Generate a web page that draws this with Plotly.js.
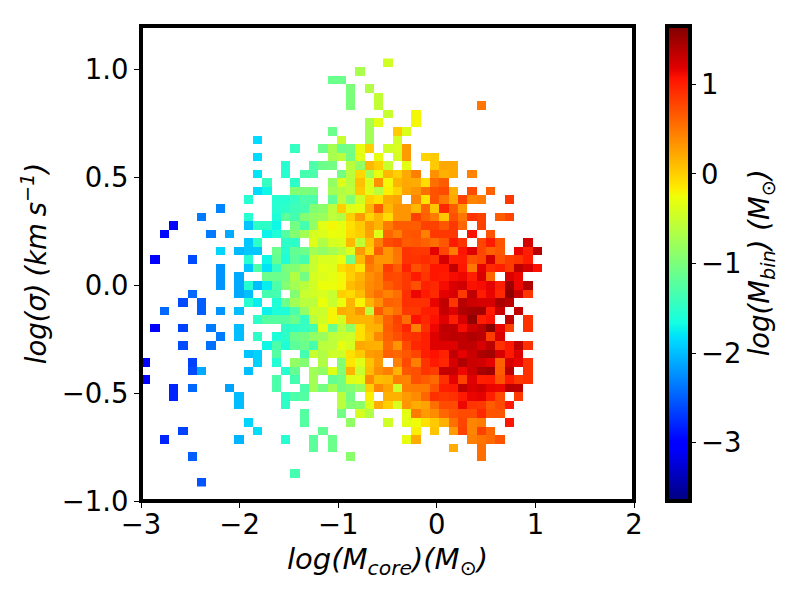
<!DOCTYPE html>
<html>
<head>
<meta charset="utf-8">
<script src="https://cdn.plot.ly/plotly-3.0.1.min.js"></script>
<style>html,body{margin:0;padding:0;background:#fff}</style>
</head>
<body>
<div id="chart" style="width:800px;height:600px"></div>
<script>
const _ = null;
// each row, top to bottom: first column index, then log(M_bin) values from that column on
const rows = [
[26,-.45],
[23,-.7],
[20,-1.1,-1.1],
[22,-1,_,-.65],
[22,-1,_,_,-.55],
[22,-1,_,_,-.55,_,_,_,_,_,_,_,_,_,_,.5],
[26,-.5,_,_,-.22],
[24,-.7,-.33,_,_,_,-.22],
[20,-1.1,_,_,_,-.75,_,_,.03,-.38],
[12,-1.85,_,_,_,_,_,_,_,_,-.5,_,_,-.75,_,_,-.45],
[16,-1.45,_,_,-1.1,-.73,-1.1,-1.05,-.3,0,_,-.45,-.4,.3],
[12,-1.85,_,_,_,_,_,_,_,-.7,-.6,-1.05,-.33,_,-.3,_,-.42,.3,_,-.03,.03],
[15,-1.55,_,_,-1.3,-1.1,-1.05,_,-.6,-.85,.13,0,-.5,_,-.33,_,_,.03,.22,.22],
[12,-1.8,_,_,-1.55,_,-1.35,-1.3,_,_,-1.05,-.6,-.05,-.75,-.3,.13,0,.22,.45,_,.35,.17,.22,_,.43],
[13,-1.45,_,_,-1.5,_,_,_,-.85,-.38,-.6,.08,-.37,.35,-.22,.15,.22,.2,-.07,.55,.65],
[12,-1.85,-1.7,_,_,-.95,-1,-1.03,_,-.75,-.65,-.58,.03,-.35,-.6,-.18,-.03,.25,.33,.55,.7,.75,.17,_,.75,_,.62],
[11,-1.55,_,_,-1.55,-1.55,-1.45,-1.3,-1.3,_,-1.15,-.58,-.95,-.45,0,-.1,.2,.25,_,.42,-.12,.7,.5,.22,.8,.42,.47,_,_,.85],
[8,-2.3,_,_,_,_,_,-1.55,-1.5,-1.4,-1.35,-.95,-.9,-.58,0,-.37,-.3,.15,.65,.13,.33,.33,.13,.6,.05,.95,.65,.3],
[6,-2.35,_,_,_,_,-1.55,_,_,-1.6,-1.2,-1.35,-.95,-.85,-.8,-.58,-.65,0,.3,-.03,.15,-.07,.33,.33,.8,.62,.47,.05,.72,.5,.88,.8,_,.65,.78],
[3,-3,_,_,_,_,_,_,_,-1.97,-1.5,-1.5,-1.7,_,-1.05,-1.35,-.85,-.33,-.22,-.3,-.1,.03,.28,.15,.47,.65,.65,.65,.8,.8,.68,.85,.6,_,.8],
[2,-2.95,_,_,_,_,-2.35,_,-2.1,_,_,_,-1.72,-1.6,-1.25,-.95,-.75,-.42,-.38,-.28,-.3,-.07,0,.25,-.35,.6,.45,.68,.7,.45,.85,.85,.85,_,1.08,_,.7],
[11,-1.95,-1.5,_,_,-1.5,-1.5,_,-.35,-.65,-.42,-.38,.12,-.55,.07,.45,.75,.8,.65,.68,.62,.55,.68,1.02,.88,_,.78,1.02,.7,_,_,1.25],
[8,-1.88,_,-2.02,-1.95,-1.95,_,-1.1,-1.55,-1.15,-1.1,-.75,-.85,-.73,-.6,-.37,.3,-.03,.65,.33,.52,.88,.85,.85,1.17,.78,.47,1.05,1.19,.78,.62,.68,_,1.15,1,1.38],
[1,-3,_,_,_,-2.6,_,_,_,_,_,-1.55,_,-1.7,-1.15,-1.6,-1.2,-1.35,-.5,-.4,-.4,-.27,-1.05,.12,.55,.33,.33,.5,.88,.88,.93,.88,1.23,1,1.02,.7,.77,1.23,.72,.83,.88,1.02],
[8,-2.22,_,_,-1.95,-1.3,-1.8,-1.45,-1,-.95,-.75,-.5,-.33,-.37,-.07,.03,-.13,.47,.37,.83,.65,.98,.72,.83,1.05,1.05,1.33,1.05,.5,1.17,.93,1,.83,1.36,1.23,1.08],
[8,-2.22,_,-2.1,_,_,-1.1,-1.1,-1.05,-.65,-1.05,-.42,-.38,-.32,-.22,0,.15,.35,.45,.77,.75,.85,1.02,.87,1.05,1.02,1.1,1.13,1,1.21,.6,_,1.21,1.13],
[8,-2.22,_,-2.1,-1.55,-2,-1.75,-1.3,-.95,-.75,-.6,-.45,-.28,-.27,-.22,.1,.2,.38,.45,.65,.75,.85,.72,.98,.95,1.1,1.21,1.26,1.08,1.1,1.17,1,1.51,1.13,1.41],
[5,-2.45,_,_,_,_,-2.1,-2,_,-1.35,-1.35,_,-.95,-.5,-.45,-.4,-.5,0,-.07,.1,.4,.55,.43,.55,.9,1.13,1.02,.93,1.17,1.23,.85,1.34,1.02,1.15,.95,1.58,1.29,.87],
[4,-2.6,_,-2.5,_,_,_,_,-1.55,-1.75,_,-1.6,-1.1,-.75,-.6,-.6,-.28,-.5,-.27,.15,-.2,.15,.37,.62,.6,.9,.9,.9,1.15,1.33,.87,1.38,1.28,1.23,1.23,1.44,1.36],
[2,-2.45,_,_,_,-2.5,_,-2.22,_,-2,_,_,-1.72,-1.62,-1.6,-1.3,-.85,-.45,-.5,-.2,.2,.15,.32,-.58,.65,.42,.55,.85,.85,1,1.02,1.31,1.19,1.41,1.46,1.48,1.02,1.29,_,1.34],
[12,-1.5,-1.25,-1.25,-1.25,-1.1,-1.45,-.6,-.45,-.2,-.42,.15,.15,.15,.32,.62,.8,.55,1.07,.95,1.07,1.19,1,1.23,1.56,1,1.07,_,1.34,_,.9],
[1,-3,_,_,-2.65,_,_,-2.35,_,_,-2,_,_,_,_,-1.5,-1.5,-1.45,-1.35,-.33,-1.1,-.58,-.85,-.1,.15,.18,.65,.78,.97,.45,.9,1.13,1.34,1.34,1.1,1.26,1.36,1.6,1.15,.8,_,.9],
[8,-2.35,_,-2,_,-1.5,_,-1.62,-1.5,-1.1,-1.05,-.85,-.8,-.58,-.5,-.47,-.1,.1,.4,.62,.72,.87,.9,1,1.19,1.32,1.36,1.34,1.41,1.36,.83,1.21],
[4,-2.6,_,_,-2.4,_,_,_,_,_,-1.7,-1.3,-1.6,-1.2,-1.1,-1.35,-.6,-.58,-.3,-.42,.22,.18,.17,.57,.33,.75,.95,1,1.19,1.19,1.19,1.34,1.34,1.21,1.36,.9,1.03,1.34,.9],
[11,-1.97,-1.9,_,-1.25,_,_,-1.35,-.5,-.65,-.47,-.47,-.1,.03,.28,.32,.62,.6,.68,.78,1,1.07,.98,1.34,1.17,1.29,1.43,1.48,1.23,1.03,1.19],
[0,-3.07,_,_,_,_,-2.65,_,_,_,_,_,_,-1.9,_,-1.58,_,-.85,-.95,_,-.65,_,-.95,-.13,-.35,.07,.3,_,.45,.75,.45,.88,1.03,.95,1.23,1.41,1.28,1.26,1.17,.62,1.21,1.15,.9],
[5,-2.6,-2.1,_,_,_,_,-2,_,_,_,-1.55,-1.15,_,-.75,-.85,-.35,-.95,.15,-.5,.1,.37,.45,.15,.68,.72,.88,.83,1.31,1.31,1.13,1.29,1.46,1.51,.65,1.36,_,.9],
[0,-3.07,_,_,_,_,_,_,_,_,_,_,_,_,_,-1.3,_,-1.35,_,-.75,_,-1.15,-1.05,-.37,-.33,.38,.1,.13,.45,.42,.72,.65,.57,.9,1.17,.8,1.19,1,1.02,.7,1.02,.85,.9],
[3,-2.8,_,-2.45,_,_,_,-2.15,_,_,_,_,-1.3,_,_,-1.3,-.75,-1.05,-.75,-1.05,-.95,-.8,0,.4,.25,-.45,.45,.47,.47,.7,1,1.03,1.34,1.21,1.26,1.15,1.13,1.38,1.34],
[3,-2.8,_,_,_,_,_,_,-2,_,_,_,_,-1.5,-1.3,-1.25,_,_,_,-.6,-1.05,_,-.18,_,.17,.17,.3,.38,.6,.9,.85,.9,1.03,1.15,1.17,1,.75,_,.85],
[10,-2,_,_,_,_,-1.5,_,_,_,_,_,-.6,-.95,-.9,-.35,.2,0,-.4,.33,.2,.25,.55,.75,.75,1.13,.87,.85,.65,.75,1.03],
[17,-1.25,_,_,_,-1.05,_,-.42,-.65,_,_,_,-.33,.47,.3,.38,.6,.7,.75,.75,.95,.7,.7],
[11,-1.88,_,_,_,_,_,-1.25,_,_,_,_,-.85,_,_,_,-.45,_,-.33,-.25,-.1,.03,.17,.55,.78,.42,.47,_,_,1.05],
[4,-2.65,_,_,_,_,_,_,_,-1.83,_,_,_,_,_,_,-1.15,_,_,_,_,_,_,_,_,_,-.18,_,.05,_,.3,.8,.42,.8,.6],
[2,-2.8,_,_,_,_,_,_,_,-2.05,_,_,_,_,-1.55,_,_,-1.2,_,-1.1,_,_,_,_,_,_,_,-.3,.2,_,_,_,_,_,.45,.52,.57,.7],
[18,-1.2,_,-1.1,_,_,_,_,_,_,_,_,_,_,_,_,.2,_,_,.55],
[5,-2.5,_,_,_,_,_,_,_,_,_,_,_,_,_,_,_,_,-.9,_,_,_,_,_,_,_,_,_,_,_,_,_,.55],
[0],
[16,-1.35],
[6,-2.55]
];
const nCols = 43;
const firstColLeft = -3.0, colWidth = 0.09453;
const bottomRowEdge = -0.933, rowHeight = 0.03965;
const zMin = -3.65, zMax = 1.65;
const xTicks = [-3,-2,-1,0,1,2];
const yTicks = [-1,-0.5,0,0.5,1];
const cbTicks = [-3,-2,-1,0,1];

// matplotlib "jet"
const jet = [[0,'rgb(0,0,127)'],[0.11,'rgb(0,0,255)'],[0.125,'rgb(0,0,255)'],[0.34,'rgb(0,219,255)'],[0.35,'rgb(0,229,247)'],[0.375,'rgb(20,255,226)'],[0.64,'rgb(238,255,8)'],[0.66,'rgb(255,234,0)'],[0.89,'rgb(255,18,0)'],[0.91,'rgb(227,0,0)'],[1,'rgb(127,0,0)']];

const z = rows.slice().reverse().map(function(r){
  const out = new Array(nCols).fill(null);
  for (let i = 1; i < r.length; i++) out[r[0] + i - 1] = r[i];
  return out;
});

const fontFam = '"DejaVu Sans", sans-serif';
const fs = 27.5;
const titleFs = 29;

const trace = {
  type:'heatmap', z:z,
  x0:firstColLeft+colWidth/2, dx:colWidth,
  y0:bottomRowEdge+rowHeight/2, dy:rowHeight,
  zmin:zMin, zmax:zMax, colorscale:jet, hoverongaps:false, hoverinfo:'skip',
  colorbar:{
    x:(668-141)/493.5, y:1, xanchor:'left', yanchor:'top',
    thicknessmode:'pixels', thickness:23, lenmode:'fraction', len:1, xpad:0, ypad:0,
    outlinewidth:4, outlinecolor:'#000', borderwidth:0,
    tickmode:'array', tickvals:cbTicks, ticks:'outside', ticklen:4, tickwidth:1, tickcolor:'#000',
    tickfont:{family:fontFam,size:fs,color:'#000'}
  }
};
const layout = {
  width:800, height:600,
  margin:{l:141,r:165.5,t:26,b:99,pad:0},
  paper_bgcolor:'#fff', plot_bgcolor:'#fff',
  font:{family:fontFam,size:fs,color:'#000'},
  xaxis:{range:[-3,2],tickmode:'array',tickvals:xTicks,ticks:'outside',ticklen:6,tickwidth:1,tickcolor:'#000',
    showgrid:false,zeroline:false,showline:false,ticklabelstandoff:-7,
    tickfont:{family:fontFam,size:fs,color:'#000'},
    title:{text:'<i>log(M<sub>core</sub>)(M</i><sub>⊙</sub><i>)</i>',font:{family:fontFam,size:titleFs},standoff:9}},
  yaxis:{range:[-1,1.2],tickmode:'array',tickvals:yTicks,tickformat:'.1f',ticks:'outside',ticklen:6,tickwidth:1,tickcolor:'#000',
    showgrid:false,zeroline:false,showline:false,
    tickfont:{family:fontFam,size:fs,color:'#000'},
    title:{text:'<i>log(σ)\u2005(km\u2005s<sup>−1</sup>)</i>',font:{family:fontFam,size:fs},standoff:7}},
  shapes:[{type:'rect',xref:'paper',yref:'paper',x0:0,x1:1,y0:0,y1:1,line:{color:'#000',width:4},fillcolor:'rgba(0,0,0,0)',layer:'above'}],
  annotations:[{xref:'paper',yref:'paper',x:(762-141)/493.5,y:(501-263)/475,xanchor:'center',yanchor:'middle',showarrow:false,textangle:-90,
    text:'<i>log(M<sub>bin</sub>) (M</i><sub>⊙</sub><i>)</i>',font:{family:fontFam,size:fs,color:'#000'}}]
};
Plotly.newPlot('chart',[trace],layout,{displayModeBar:false,staticPlot:true});
</script>
</body>
</html>
